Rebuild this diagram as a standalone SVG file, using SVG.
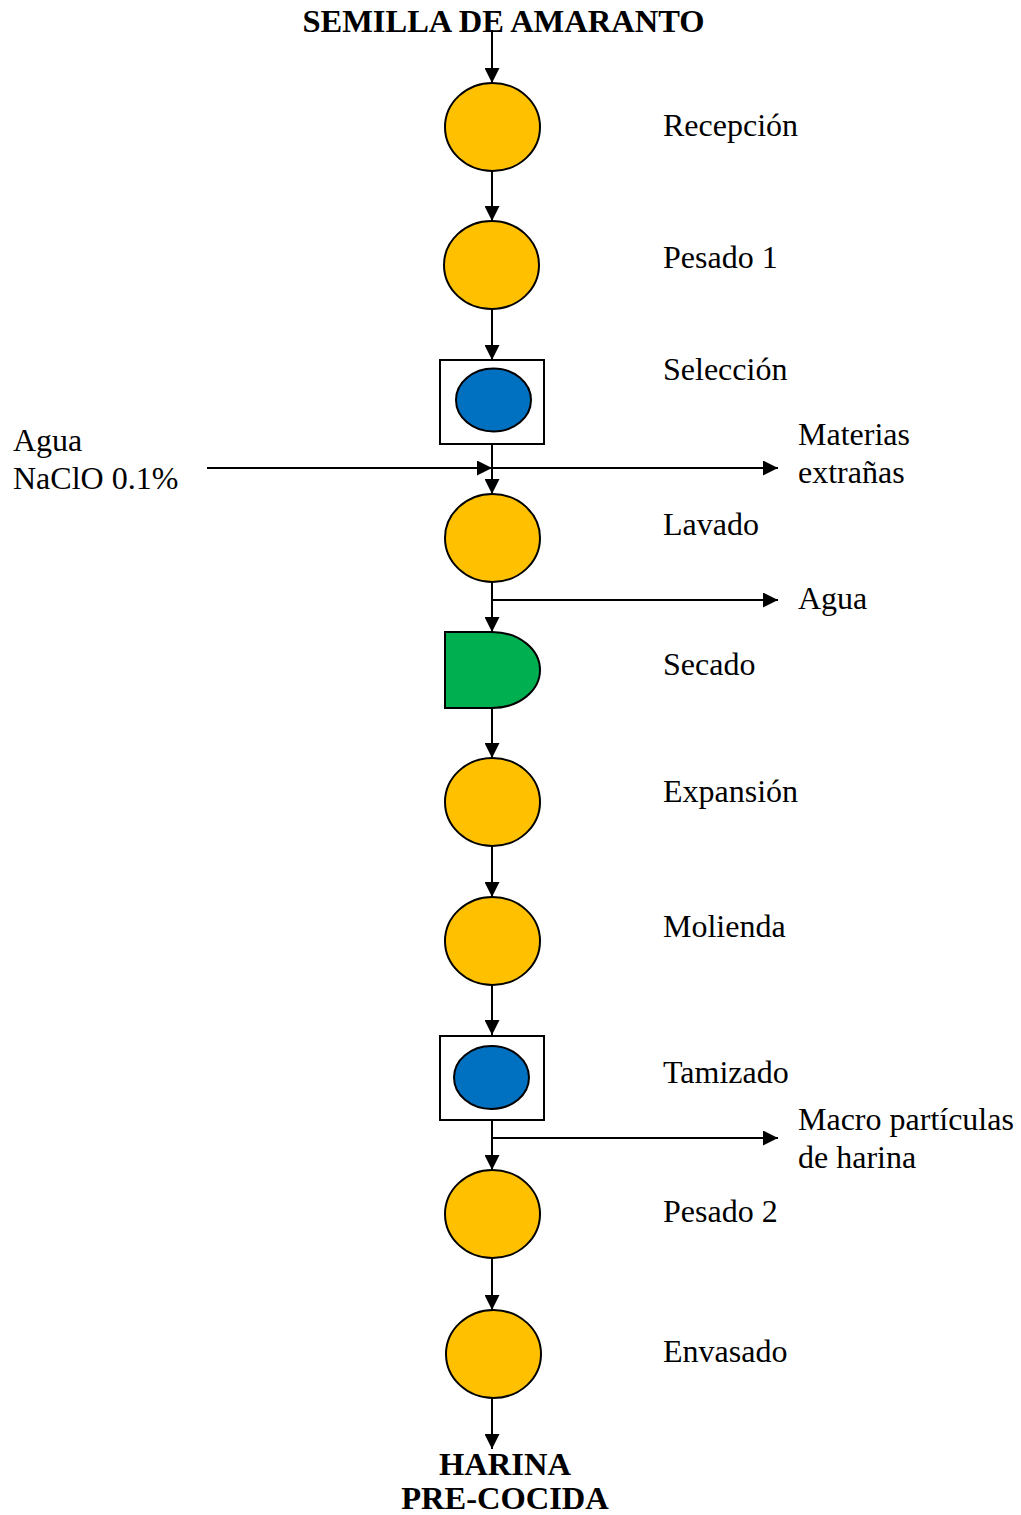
<svg xmlns="http://www.w3.org/2000/svg" width="1021" height="1515" viewBox="0 0 1021 1515">
  <defs>
    <marker id="arrow" markerUnits="userSpaceOnUse" markerWidth="15" markerHeight="15" viewBox="0 0 15 15" refX="15" refY="7.5" orient="auto">
      <path d="M0,0 L15,7.5 L0,15 Z" fill="#000"/>
    </marker>
    <style>
      .op { fill: #FFC000; stroke: #000; stroke-width: 2; }
      .insp { fill: #0070C0; stroke: #000; stroke-width: 2; }
      .box { fill: #fff; stroke: #000; stroke-width: 2; }
      .delay { fill: #00B050; stroke: #000; stroke-width: 2; }
      .flow { stroke: #000; stroke-width: 2; fill: none; marker-end: url(#arrow); }
      .lbl { font-family: "Liberation Serif", "Times New Roman", serif; font-size: 32px; fill: #000; }
      .ttl { font-family: "Liberation Serif", "Times New Roman", serif; font-size: 32.5px; font-weight: bold; fill: #000; text-anchor: middle; }
    </style>
  </defs>
  <rect width="1021" height="1515" fill="#fff"/>

  <!-- flow lines -->
  <g id="connectors">
    <line class="flow" x1="492" y1="30" x2="492" y2="83"/>
    <line class="flow" x1="492" y1="171" x2="492" y2="221"/>
    <line class="flow" x1="492" y1="309" x2="492" y2="360"/>
    <line class="flow" x1="492" y1="444" x2="492" y2="494"/>
    <line class="flow" x1="207" y1="468" x2="492" y2="468"/>
    <line class="flow" x1="492" y1="468" x2="778" y2="468"/>
    <line class="flow" x1="492" y1="582" x2="492" y2="632"/>
    <line class="flow" x1="492" y1="600" x2="778" y2="600"/>
    <line class="flow" x1="492" y1="708" x2="492" y2="758"/>
    <line class="flow" x1="492" y1="846" x2="492" y2="897"/>
    <line class="flow" x1="492" y1="985" x2="492" y2="1035"/>
    <line class="flow" x1="492" y1="1120" x2="492" y2="1170"/>
    <line class="flow" x1="492" y1="1138" x2="778" y2="1138"/>
    <line class="flow" x1="492" y1="1258" x2="492" y2="1310"/>
    <line class="flow" x1="492" y1="1398" x2="492" y2="1449"/>
  </g>

  <g id="start">
    <text class="ttl" x="503.5" y="32">SEMILLA DE AMARANTO</text>
  </g>

  <g id="recepcion">
    <ellipse class="op" cx="492.5" cy="127" rx="47.5" ry="44"/>
    <text class="lbl" x="663" y="136">Recepción</text>
  </g>

  <g id="pesado1">
    <ellipse class="op" cx="491.5" cy="265" rx="47.5" ry="44"/>
    <text class="lbl" x="663" y="268">Pesado 1</text>
  </g>

  <g id="seleccion">
    <rect class="box" x="440" y="360" width="104" height="84"/>
    <ellipse class="insp" cx="493.5" cy="400" rx="37.5" ry="31.5"/>
    <text class="lbl" x="663" y="380">Selección</text>
  </g>

  <g id="entrada-lavado">
    <text class="lbl" x="13" y="451">Agua</text>
    <text class="lbl" x="13" y="489">NaClO 0.1%</text>
  </g>

  <g id="salida-seleccion">
    <text class="lbl" x="798" y="445">Materias</text>
    <text class="lbl" x="798" y="483">extrañas</text>
  </g>

  <g id="lavado">
    <ellipse class="op" cx="492.5" cy="538" rx="47.5" ry="44"/>
    <text class="lbl" x="663" y="535">Lavado</text>
  </g>

  <g id="salida-lavado">
    <text class="lbl" x="798" y="609">Agua</text>
  </g>

  <g id="secado">
    <path class="delay" d="M445,632 H492 A48,38 0 0 1 492,708 H445 Z"/>
    <text class="lbl" x="663" y="675">Secado</text>
  </g>

  <g id="expansion">
    <ellipse class="op" cx="492.5" cy="802" rx="47.5" ry="44"/>
    <text class="lbl" x="663" y="802">Expansión</text>
  </g>

  <g id="molienda">
    <ellipse class="op" cx="492.5" cy="941" rx="47.5" ry="44"/>
    <text class="lbl" x="663" y="937">Molienda</text>
  </g>

  <g id="tamizado">
    <rect class="box" x="440" y="1036" width="104" height="84"/>
    <ellipse class="insp" cx="491.5" cy="1077.5" rx="37.5" ry="31.5"/>
    <text class="lbl" x="663" y="1083">Tamizado</text>
  </g>

  <g id="salida-tamizado">
    <text class="lbl" x="798" y="1130">Macro partículas</text>
    <text class="lbl" x="798" y="1168">de harina</text>
  </g>

  <g id="pesado2">
    <ellipse class="op" cx="492.5" cy="1214" rx="47.5" ry="44"/>
    <text class="lbl" x="663" y="1222">Pesado 2</text>
  </g>

  <g id="envasado">
    <ellipse class="op" cx="493.5" cy="1354" rx="47.5" ry="44"/>
    <text class="lbl" x="663" y="1362">Envasado</text>
  </g>

  <g id="end">
    <text class="ttl" x="505" y="1475">HARINA</text>
    <text class="ttl" x="505" y="1509">PRE-COCIDA</text>
  </g>
</svg>
